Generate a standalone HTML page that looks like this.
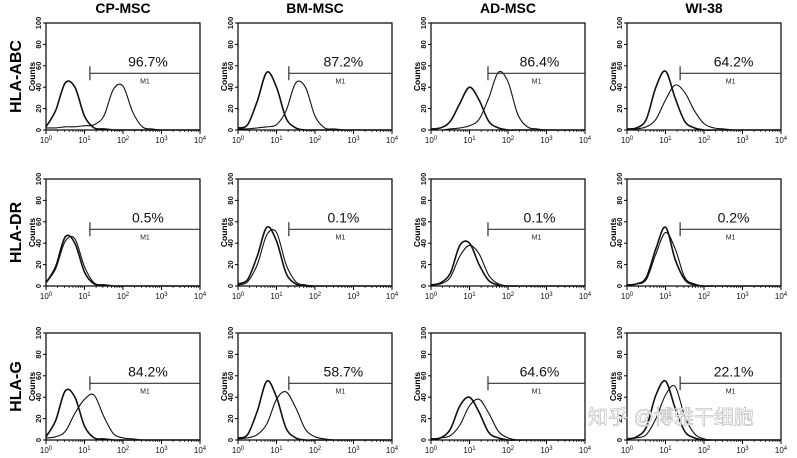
<!DOCTYPE html>
<html><head><meta charset="utf-8"><style>
html,body{margin:0;padding:0;background:#fff;}
svg{display:block;font-family:"Liberation Sans",Arial,sans-serif;}
</style></head><body>
<svg id="fig" width="797" height="458" viewBox="0 0 797 458"></svg>
<script>
const columns = ["CP-MSC","BM-MSC","AD-MSC","WI-38"];
const rows = ["HLA-ABC","HLA-DR","HLA-G"];
const percents = [["96.7%","87.2%","86.4%","64.2%"],["0.5%","0.1%","0.1%","0.2%"],["84.2%","58.7%","64.6%","22.1%"]];
const gates = [1.14,1.32,1.48,1.38];
const binLogs = [0,0.25,0.5,0.75,1,1.25,1.5,1.75,2,2.25,2.5,2.75,3,3.25,3.5,3.75,4];
const controlCounts = [
 [[3,18,44,40,13,2,1,0,0,0,0,0,0,0,0,0,0],[2,5,27,54,40,11,2,0,0,0,0,0,0,0,0,0,0],[1,2,8,25,40,28,8,2,0,0,0,0,0,0,0,0,0],[1,2,10,40,55,30,8,2,0,0,0,0,0,0,0,0,0]],
 [[3,18,46,40,13,2,1,0,0,0,0,0,0,0,0,0,0],[2,6,28,55,42,12,2,0,0,0,0,0,0,0,0,0,0],[1,3,12,38,40,20,5,1,0,0,0,0,0,0,0,0,0],[1,2,8,35,55,25,6,1,0,0,0,0,0,0,0,0,0]],
 [[3,18,46,40,13,2,1,0,0,0,0,0,0,0,0,0,0],[2,5,27,55,40,11,2,0,0,0,0,0,0,0,0,0,0],[1,2,10,32,40,26,7,2,0,0,0,0,0,0,0,0,0],[1,3,12,42,55,30,8,2,0,0,0,0,0,0,0,0,0]]
];
const stainedCounts = [
 [[2,2,3,3,4,5,13,38,41,17,3,1,0,0,0,0,0],[1,1,2,3,5,18,44,40,13,2,1,0,0,0,0,0,0],[0,0,1,2,4,10,30,54,45,15,3,1,0,0,0,0,0],[0,1,3,10,28,42,35,18,6,2,1,0,0,0,0,0,0]],
 [[3,16,42,44,18,3,1,0,0,0,0,0,0,0,0,0,0],[1,4,20,48,50,20,4,1,0,0,0,0,0,0,0,0,0],[1,2,8,28,38,30,10,2,0,0,0,0,0,0,0,0,0],[1,2,6,30,50,35,8,2,0,0,0,0,0,0,0,0,0]],
 [[2,3,8,25,38,42,22,6,2,1,0,0,0,0,0,0,0],[1,2,5,15,38,45,30,10,3,1,0,0,0,0,0,0,0],[1,2,4,14,32,38,25,8,2,0,0,0,0,0,0,0,0],[1,2,5,20,42,50,22,6,1,0,0,0,0,0,0,0,0]]
];
const yTicks = [0,20,40,60,80,100];
const xTicks = [0,1,2,3,4];

const NS="http://www.w3.org/2000/svg";
const svg=document.getElementById('fig');
const colX=[46,238,431,627], rowY=[23,179,333], PW=154, PH=107;
function mk(tag,attrs,parent,text){const e=document.createElementNS(NS,tag);for(const k in attrs)e.setAttribute(k,attrs[k]);if(text!==undefined)e.textContent=text;(parent||svg).appendChild(e);return e;}
function smooth(P){let d='M'+P[0][0].toFixed(1)+','+P[0][1].toFixed(1);
  for(let n=0;n<P.length-1;n++){const p0=P[Math.max(n-1,0)],p1=P[n],p2=P[n+1],p3=P[Math.min(n+2,P.length-1)];
    const c1=[p1[0]+(p2[0]-p0[0])/6,p1[1]+(p2[1]-p0[1])/6],c2=[p2[0]-(p3[0]-p1[0])/6,p2[1]-(p3[1]-p1[1])/6];
    d+=` C${c1[0].toFixed(1)},${c1[1].toFixed(1)} ${c2[0].toFixed(1)},${c2[1].toFixed(1)} ${p2[0].toFixed(1)},${p2[1].toFixed(1)}`;}
  return d;}

columns.forEach((c,i)=>{
  const t=mk('text',{x:colX[i]+PW/2,y:13,'text-anchor':'middle','font-size':14,'font-weight':'bold'},svg,c);
  
  
});
rows.forEach((r,j)=>{
  const cy=rowY[j]+PH/2;
  const t=mk('text',{x:0,y:0,transform:`translate(21,${cy}) rotate(-90)`,'text-anchor':'middle','font-size':16,'font-weight':'bold'},svg,r);
  
  
});

for(let j=0;j<3;j++)for(let i=0;i<4;i++){
  const x0=colX[i],y0=rowY[j];
  const g=mk('g',{});
  
  
  const xs=v=>x0+v/4*PW, ys=v=>y0+PH-v/100*PH;
  const box=mk('rect',{x:x0,y:y0,width:PW,height:PH,fill:'none',stroke:'#000','stroke-width':1.2},g);
  
  
  yTicks.forEach(v=>{
    mk('line',{x1:x0-3,x2:x0,y1:ys(v),y2:ys(v),stroke:'#000'},g);
    const t=mk('text',{transform:`translate(${x0-5},${ys(v)}) rotate(-90)`,'text-anchor':'middle','font-size':7.5,fill:'#111','font-weight':'bold'},g,String(v));
    
    
  });
  const cl=mk('text',{transform:`translate(${x0-11},${y0+PH/2}) rotate(-90)`,'text-anchor':'middle','font-size':8.5,fill:'#000','font-weight':'bold'},g,'Counts');
  
  
  xTicks.forEach(v=>{
    mk('line',{x1:xs(v),x2:xs(v),y1:y0+PH,y2:y0+PH+4,stroke:'#000'},g);
    if(v<4)for(let m=2;m<10;m++){const lx=xs(v+Math.log10(m));mk('line',{x1:lx,x2:lx,y1:y0+PH,y2:y0+PH+2,stroke:'#000','stroke-width':0.7},g);}
    const t=mk('text',{x:xs(v),y:y0+PH+13,'text-anchor':'middle','font-size':8,fill:'#111'},g);
    
    
    t.appendChild(document.createTextNode('10'));
    mk('tspan',{dy:-3,'font-size':6},t,String(v));
  });
  [controlCounts[j][i],stainedCounts[j][i]].forEach((arr,k)=>{
    const P=arr.map((v,n)=>[xs(binLogs[n]),ys(v)]);
    const p=mk('path',{d:smooth(P),fill:'none',stroke:'#111','stroke-width':k===0?1.6:1.1,'stroke-linejoin':'round'},g);
    
    
  });
  const gx=xs(gates[i]), gy=ys(53);
  const gl=mk('path',{d:`M${gx},${gy-7}V${gy+7}M${gx},${gy}H${x0+PW}`,stroke:'#333','stroke-width':1.2,fill:'none'},g);
  
  
  const ml=mk('text',{x:(gx+x0+PW)/2,y:gy+10,'text-anchor':'middle','font-size':7,fill:'#222'},g,'M1');
  
  
  const pt=mk('text',{x:(gx+x0+PW)/2+3,y:gy-7,'text-anchor':'middle','font-size':14,fill:'#111'},g,percents[j][i]);
  
  
}
const wm=mk('text',{x:588,y:424,'font-size':20,fill:'#fff',stroke:'#aaa','stroke-width':0.5,'font-family':'"Liberation Sans","Noto Sans CJK SC",sans-serif'},svg,'知乎 @博雅干细胞');


</script>
</body></html>
